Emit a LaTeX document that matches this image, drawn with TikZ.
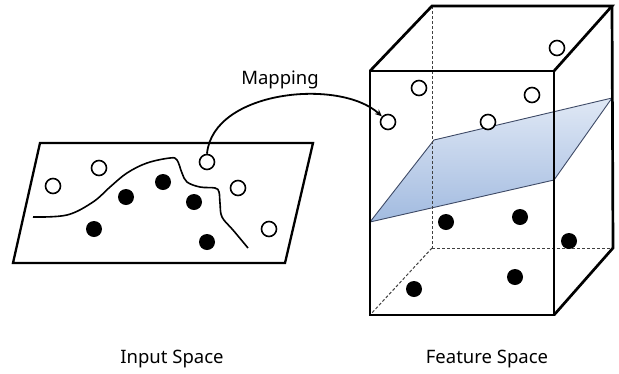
\documentclass[tikz,border=0pt]{standalone}
\usepackage{fontspec}
\setmainfont{Noto Sans}
\usetikzlibrary{arrows.meta}
\definecolor{planetop}{HTML}{E0E8F5}
\definecolor{planebot}{HTML}{A2BBE0}
\definecolor{planeedge}{HTML}{3E4A66}
\tikzset{
  opendot/.style={circle,draw=black,line width=1.6pt,fill=white,minimum size=15pt,inner sep=0pt},
  filldot/.style={circle,fill=black,minimum size=16pt,inner sep=0pt},
  frame/.style={line width=2.3pt},
  boxedge/.style={line width=2.7pt,line join=miter},
  hidden/.style={line width=1pt,dash pattern=on 3pt off 2pt,black!75},
  lbl/.style={font=\fontsize{18.5}{20}\selectfont,inner sep=0pt},
  mapline/.style={line width=1.8pt,-{Stealth[length=7pt,width=6pt]}}
}
\begin{document}
\begin{tikzpicture}[x=1pt,y=-1pt]
\useasboundingbox (0,0) rectangle (619,373);
% input space parallelogram
\draw[frame] (40,143) -- (313,143) -- (285,263) -- (13,263) -- cycle;
\draw[line width=1.6pt] plot[smooth,tension=0.6] coordinates {(33,217) (67,215) (93,202) (110,187) (127,173) (147,163) (170,158) (177,160) (182,173) (187,182) (200,187) (215,188) (219,192) (220,203) (222,217) (233,230) (248,248)};
\node[opendot] (i1) at (53,186) {};
\node[opendot] (i2) at (99,168) {};
\node[opendot] (i3) at (207,162) {};
\node[opendot] (i4) at (238,188) {};
\node[opendot] (i5) at (269,229) {};
\node[filldot] (j1) at (126,197) {};
\node[filldot] (j2) at (163,182) {};
\node[filldot] (j3) at (194,202) {};
\node[filldot] (j4) at (94,229) {};
\node[filldot] (j5) at (207,242) {};
% feature space: hidden edges
\draw[hidden] (432,6) -- (432,248);
\draw[hidden] (432,248) -- (613,248);
\draw[hidden] (432,248) -- (370,315);
% plane
\shade[top color=planetop,bottom color=planebot] (370,222) -- (434,140) -- (612,98) -- (554,180) -- cycle;
\draw[planeedge,line width=0.9pt] (370,222) -- (434,140) -- (612,98) -- (554,180) -- cycle;
\draw[hidden] (432,141) -- (432,208);
% box solid edges
\draw[boxedge] (370,71) rectangle (554,315);
\draw[boxedge] (370,71) -- (432,6) -- (612,6) -- (554,71);
\draw[boxedge] (612,6) -- (613,248) -- (554,315);
% feature points
\node[opendot] (f1) at (557,48) {};
\node[opendot] (f2) at (419,88) {};
\node[opendot] (f3) at (532,95) {};
\node[opendot] (f4) at (388,122) {};
\node[opendot] (f5) at (488,122) {};
\node[filldot] (g1) at (446,222) {};
\node[filldot] (g2) at (520,217) {};
\node[filldot] (g3) at (569,241) {};
\node[filldot] (g4) at (515,277) {};
\node[filldot] (g5) at (414,289) {};
% mapping
\draw[mapline] (i3.north) .. controls (213,90) and (340,78) .. (f4);
\node[lbl] (maplbl) at (280,80) {Mapping};
% captions
\node[lbl] (cin) at (172,359) {Input Space};
\node[lbl] (cfeat) at (487,359) {Feature Space};
\end{tikzpicture}
\end{document}
